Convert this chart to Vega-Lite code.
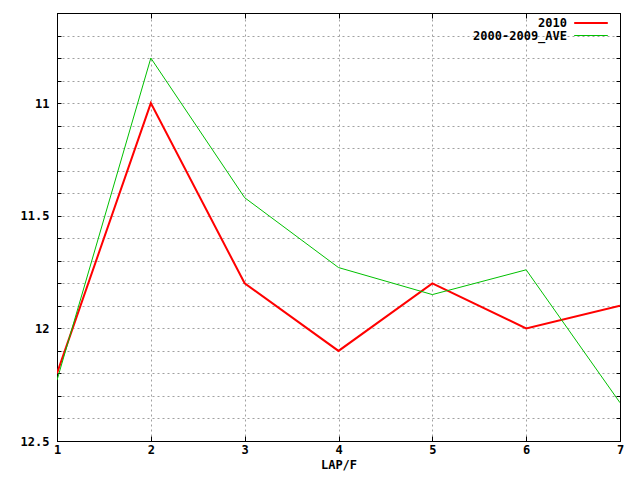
{
  "$schema": "https://vega.github.io/schema/vega-lite/v6.json",
  "autosize": "none",
  "width": 563,
  "height": 428,
  "padding": {"left": 57, "top": 13, "right": 20, "bottom": 39},
  "background": "white",
  "config": {
    "view": {"stroke": "black", "strokeWidth": 1},
    "font": "DejaVu Sans Mono"
  },
  "data": {
    "values": [
      {"lap": 1, "series": "2010", "value": 12.2},
      {"lap": 2, "series": "2010", "value": 11.0},
      {"lap": 3, "series": "2010", "value": 11.8},
      {"lap": 4, "series": "2010", "value": 12.1},
      {"lap": 5, "series": "2010", "value": 11.8},
      {"lap": 6, "series": "2010", "value": 12.0},
      {"lap": 7, "series": "2010", "value": 11.9},
      {"lap": 1, "series": "2000-2009_AVE", "value": 12.23},
      {"lap": 2, "series": "2000-2009_AVE", "value": 10.8},
      {"lap": 3, "series": "2000-2009_AVE", "value": 11.42},
      {"lap": 4, "series": "2000-2009_AVE", "value": 11.73},
      {"lap": 5, "series": "2000-2009_AVE", "value": 11.85},
      {"lap": 6, "series": "2000-2009_AVE", "value": 11.74},
      {"lap": 7, "series": "2000-2009_AVE", "value": 12.33}
    ]
  },
  "resolve": {"axis": {"x": "independent", "y": "independent"}},
  "layer": [
    {
      "mark": {"type": "line", "clip": true},
      "encoding": {
        "x": {
          "field": "lap", "type": "quantitative",
          "scale": {"domain": [1, 7], "nice": false, "zero": false},
          "axis": {
            "title": "LAP/F", "values": [1, 2, 3, 4, 5, 6, 7], "format": "d",
            "grid": true,
            "gridColor": {"condition": {"test": "datum.value == 1 || datum.value == 7", "value": "black"}, "value": "#a0a0a0"},
            "gridDash": {"condition": {"test": "datum.value == 1 || datum.value == 7", "value": []}, "value": [2, 3]},
            "gridOpacity": 1,
            "domainColor": "black", "tickColor": "black", "tickSize": -5,
            "labelFont": "DejaVu Sans Mono", "labelFontWeight": "bold", "labelFontSize": 12, "labelColor": "black",
            "labelPadding": 8, "labelFlush": false,
            "titleFont": "DejaVu Sans Mono", "titleFontWeight": "bold", "titleFontSize": 12, "titleColor": "black",
            "titlePadding": 4
          }
        },
        "y": {
          "field": "value", "type": "quantitative",
          "scale": {"domain": [10.6, 12.5], "nice": false, "zero": false, "reverse": true},
          "axis": {
            "title": null,
            "values": [10.6, 10.7, 10.8, 10.9, 11, 11.1, 11.2, 11.3, 11.4, 11.5, 11.6, 11.7, 11.8, 11.9, 12, 12.1, 12.2, 12.3, 12.4, 12.5],
            "labelExpr": "(abs(datum.value*2 - round(datum.value*2)) < 0.001) ? format(datum.value, '') : ''",
            "grid": true,
            "gridColor": {"condition": {"test": "datum.value < 10.65 || datum.value > 12.45", "value": "black"}, "value": "#a0a0a0"},
            "gridDash": {"condition": {"test": "datum.value < 10.65 || datum.value > 12.45", "value": []}, "value": [2, 3]},
            "gridOpacity": 1,
            "domainColor": "black", "tickColor": "black", "tickSize": -4,
            "labelFont": "DejaVu Sans Mono", "labelFontWeight": "bold", "labelFontSize": 12, "labelColor": "black",
            "labelPadding": 12, "labelFlush": false
          }
        },
        "color": {
          "field": "series", "type": "nominal",
          "scale": {"domain": ["2010", "2000-2009_AVE"], "range": ["#ff0000", "#00c000"]},
          "legend": {
            "title": null, "orient": "none", "legendX": 527, "legendY": 3,
            "symbolType": "M-2.8,0H2.8", "symbolStrokeWidth": 2, "symbolSize": 144,
            "labelFont": "DejaVu Sans Mono", "labelFontWeight": "bold", "labelFontSize": 12, "labelColor": "black",
            "labelAlign": "right", "labelOffset": -31, "rowPadding": 0,
            "fillColor": null
          }
        },
        "strokeWidth": {
          "field": "series", "type": "nominal",
          "scale": {"domain": ["2010", "2000-2009_AVE"], "range": [2, 1]},
          "legend": null
        }
      }
    },
    {
      "mark": {"type": "line", "opacity": 0},
      "encoding": {
        "x": {
          "field": "lap", "type": "quantitative",
          "scale": {"domain": [1, 7], "nice": false, "zero": false},
          "axis": {
            "orient": "top", "title": null, "values": [1, 2, 3, 4, 5, 6, 7],
            "labels": false, "grid": false, "domain": false,
            "tickColor": "black", "tickSize": -5
          }
        },
        "y": {
          "field": "value", "type": "quantitative",
          "scale": {"domain": [10.6, 12.5], "nice": false, "zero": false, "reverse": true},
          "axis": {
            "orient": "right", "title": null,
            "values": [10.6, 10.7, 10.8, 10.9, 11, 11.1, 11.2, 11.3, 11.4, 11.5, 11.6, 11.7, 11.8, 11.9, 12, 12.1, 12.2, 12.3, 12.4, 12.5],
            "labels": false, "grid": false, "domain": false,
            "tickColor": "black", "tickSize": -4
          }
        }
      }
    }
  ]
}
